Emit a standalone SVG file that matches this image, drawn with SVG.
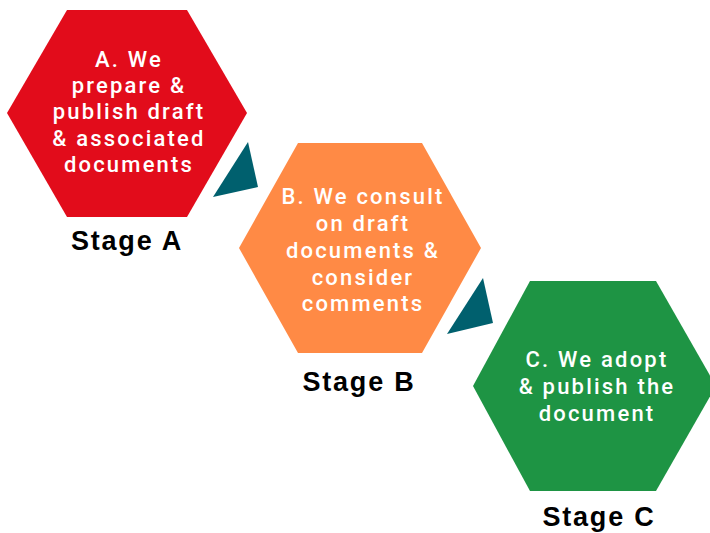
<svg xmlns="http://www.w3.org/2000/svg" width="710" height="533" viewBox="0 0 710 533">
<style>
.t{font-family:Roboto,"Liberation Sans",sans-serif;font-weight:500;font-size:22px;fill:#fff;text-anchor:middle;letter-spacing:2.2px}
.s{font-family:"Liberation Sans",Arial,sans-serif;font-weight:700;font-size:27px;fill:#000;text-anchor:middle;letter-spacing:1.8px}
.arr{fill:#00606E}
</style>
<rect width="710" height="533" fill="#fff"/>
<g id="stageA">
<polygon points="67,10 187,10 247,113 187,217 67,217 7,113" fill="#E20C1B"/>
<text class="t" x="129" y="67">A. We</text>
<text class="t" x="129" y="93">prepare &amp;</text>
<text class="t" x="129" y="119">publish draft</text>
<text class="t" x="129" y="146">&amp; associated</text>
<text class="t" x="129" y="172">documents</text>
<text class="s" x="127" y="250">Stage A</text>
</g>
<g id="stageB">
<polygon points="298,143 422,143 481,248 422,353 298,353 239,248" fill="#FF8A45"/>
<text class="t" x="363" y="204">B. We consult</text>
<text class="t" x="363" y="231">on draft</text>
<text class="t" x="363" y="258">documents &amp;</text>
<text class="t" x="363" y="285">consider</text>
<text class="t" x="363" y="311">comments</text>
<text class="s" x="359" y="391">Stage B</text>
</g>
<g id="stageC">
<polygon points="530,281 656,281 716,386 656,491 530,491 473,386" fill="#1E9444"/>
<text class="t" x="597" y="367">C. We adopt</text>
<text class="t" x="597" y="394">&amp; publish the</text>
<text class="t" x="597" y="421">document</text>
<text class="s" x="599" y="526">Stage C</text>
</g>
<g id="connectors">
<polygon class="arr" points="248,142 258,187 213,197"/>
<polygon class="arr" points="483,278 493,323 447,334"/>
</g>
</svg>
